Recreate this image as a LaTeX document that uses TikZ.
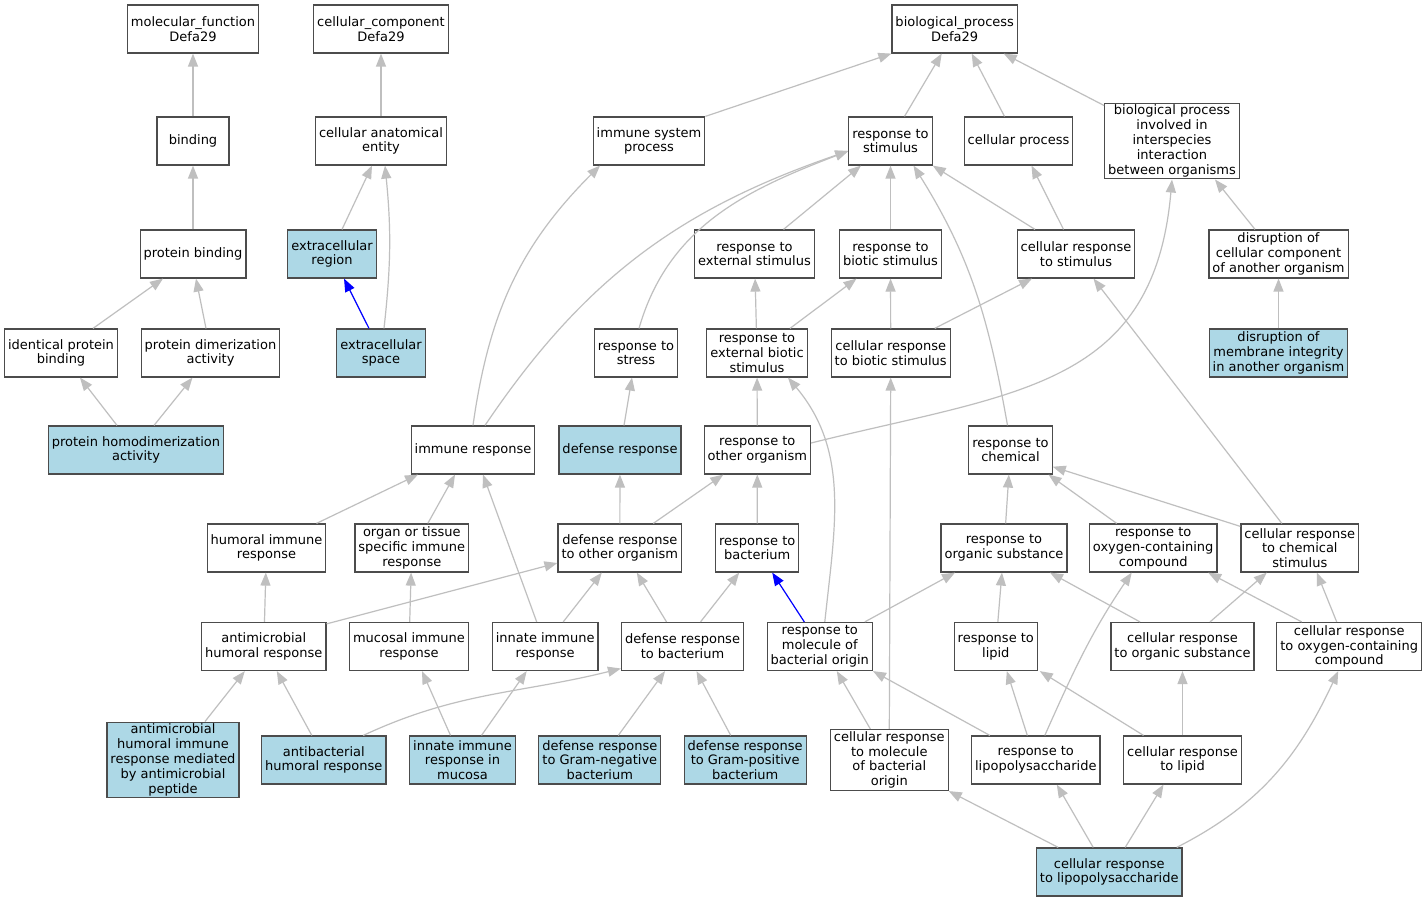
\documentclass[tikz,border=0pt]{standalone}
\usepackage{fontspec}
\setmainfont{DejaVu Sans}
\usetikzlibrary{arrows.meta}
\definecolor{golight}{HTML}{ADD8E6}
\begin{document}
\begin{tikzpicture}[x=1pt, y=1pt,
			go/.style = {shape=rectangle, draw=black!70, line width=1.2pt,
				fill=white, align=center, font=\fontsize{13}{14.8}\selectfont,
				inner xsep=3.5pt, inner ysep=2pt, minimum width=72pt, minimum height=48pt},
			hit/.style = {go, fill=golight},
			isa/.style = {draw=black!25, line width=1.2pt, -{Triangle[length=13pt,width=10pt]}},
			isablue/.style = {isa, draw=blue}]
	\useasboundingbox[fill=white] (0,0) rectangle (1427,-901);
	\node[go] (mf) at (193,-29) {molecular\_function\\Defa29};
	\node[go] (cc) at (381,-29) {cellular\_component\\Defa29};
	\node[go] (bp) at (954.7,-29) {biological\_process\\Defa29};
	\node[go] (bind) at (193,-141) {binding};
	\node[go] (cae) at (381,-141) {cellular anatomical\\entity};
	\node[go] (isp) at (649,-141) {immune system\\process};
	\node[go] (rstim) at (890.5,-141) {response to\\stimulus};
	\node[go] (cproc) at (1018.5,-141) {cellular process};
	\node[go] (bpi) at (1172,-141) {biological process\\involved in\\interspecies\\interaction\\between organisms};
	\node[go] (pbind) at (193,-254) {protein binding};
	\node[hit] (exreg) at (332,-254) {extracellular\\region};
	\node[go] (rext) at (754.5,-254) {response to\\external stimulus};
	\node[go] (rbio) at (890.5,-254) {response to\\biotic stimulus};
	\node[go] (crstim) at (1076,-254) {cellular response\\to stimulus};
	\node[go] (dcc) at (1278.5,-254) {disruption of\\cellular component\\of another organism};
	\node[go] (ipb) at (61,-353) {identical protein\\binding};
	\node[go] (pda) at (210.5,-353) {protein dimerization\\activity};
	\node[hit] (exsp) at (381,-353) {extracellular\\space};
	\node[go] (rstress) at (636,-353) {response to\\stress};
	\node[go] (rebs) at (757,-353) {response to\\external biotic\\stimulus};
	\node[go] (crbs) at (890.7,-353) {cellular response\\to biotic stimulus};
	\node[hit] (dmi) at (1278.5,-353) {disruption of\\membrane integrity\\in another organism};
	\node[hit] (phd) at (136,-450) {protein homodimerization\\activity};
	\node[go] (iresp) at (473,-450) {immune response};
	\node[hit] (dresp) at (620,-450) {defense response};
	\node[go] (roo) at (757.3,-450) {response to\\other organism};
	\node[go] (rchem) at (1010.5,-450) {response to\\chemical};
	\node[go] (hir) at (266.5,-548) {humoral immune\\response};
	\node[go] (otsir) at (411.8,-548) {organ or tissue\\specific immune\\response};
	\node[go] (droo) at (619.8,-548) {defense response\\to other organism};
	\node[go] (rbact) at (757.2,-548) {response to\\bacterium};
	\node[go] (rorg) at (1004,-548) {response to\\organic substance};
	\node[go] (roxy) at (1153.2,-548) {response to\\oxygen-containing\\compound};
	\node[go] (crchem) at (1299.8,-548) {cellular response\\to chemical\\stimulus};
	\node[go] (amhr) at (263.8,-646.5) {antimicrobial\\humoral response};
	\node[go] (mir) at (409,-646.5) {mucosal immune\\response};
	\node[go] (iir) at (545.2,-646.5) {innate immune\\response};
	\node[go] (drbact) at (682.5,-646.5) {defense response\\to bacterium};
	\node[go] (rmbo) at (819.8,-646.5) {response to\\molecule of\\bacterial origin};
	\node[go] (rlip) at (995.8,-646.5) {response to\\lipid};
	\node[go] (crorg) at (1182.5,-646.5) {cellular response\\to organic substance};
	\node[go] (croxy) at (1349.2,-646.5) {cellular response\\to oxygen-containing\\compound};
	\node[hit] (amp) at (173,-760) {antimicrobial\\humoral immune\\response mediated\\by antimicrobial\\peptide};
	\node[hit] (abhr) at (323.8,-760) {antibacterial\\humoral response};
	\node[hit] (iirm) at (462.5,-760) {innate immune\\response in\\mucosa};
	\node[hit] (dgneg) at (599.8,-760) {defense response\\to Gram-negative\\bacterium};
	\node[hit] (dgpos) at (745.2,-760) {defense response\\to Gram-positive\\bacterium};
	\node[go] (crmbo) at (889.3,-760) {cellular response\\to molecule\\of bacterial\\origin};
	\node[go] (rlps) at (1035.8,-760) {response to\\lipopolysaccharide};
	\node[go] (crlip) at (1182.5,-760) {cellular response\\to lipid};
	\node[hit] (crlps) at (1109.2,-872) {cellular response\\to lipopolysaccharide};
	\draw[isa] (bind) -- (mf);
	\draw[isa] (pbind) -- (bind);
	\draw[isa] ([xshift=32pt]ipb.north) -- ([xshift=-30pt]pbind.south);
	\draw[isa] ([xshift=-4.5pt]pda.north) -- ([xshift=3pt]pbind.south);
	\draw[isa] ([xshift=-19pt]phd.north) -- ([xshift=19pt]ipb.south);
	\draw[isa] ([xshift=18pt]phd.north) -- ([xshift=-18pt]pda.south);
	\draw[isa] (cae) -- (cc);
	\draw[isa] ([xshift=10pt]exreg.north) -- ([xshift=-9pt]cae.south);
	\draw[isa] ([xshift=3pt]exsp.north) to[bend right=6] ([xshift=4pt]cae.south);
	\draw[isablue] ([xshift=-12pt]exsp.north) -- ([xshift=12pt]exreg.south);
	\draw[isa] (isp.north east) -- (bp.south west);
	\draw[isa] ([xshift=14pt]rstim.north) -- ([xshift=-13pt]bp.south);
	\draw[isa] ([xshift=-14pt]cproc.north) -- ([xshift=17pt]bp.south);
	\draw[isa] ([yshift=-3pt]bpi.north west) -- ([xshift=49pt]bp.south);
	\draw[isa] (iresp.north) to[out=82,in=-135] ([xshift=-49pt]isp.south);
	\draw[isa] ([xshift=12pt]iresp.north) to[out=56,in=199] ([yshift=-10pt]rstim.west);
	\draw[isa] ([xshift=3pt]rstress.north) to[out=74,in=201] ([yshift=-10pt]rstim.west);
	\draw[isa] ([xshift=29pt]rext.north) -- ([xshift=-29.5pt]rstim.south);
	\draw[isa] (rbio) -- (rstim);
	\draw[isa] ([xshift=-3pt]rchem.north) to[out=100,in=-58] ([xshift=23pt]rstim.south);
	\draw[isa] ([xshift=-41pt]crstim.north) -- (rstim.south east);
	\draw[isa] ([xshift=-12.5pt]crstim.north) -- ([xshift=13pt]cproc.south);
	\draw[isa] ([xshift=-23.5pt]dcc.north) -- ([xshift=43pt]bpi.south);
	\draw[isa] (dmi) -- (dcc);
	\draw[isa] (rebs) -- (rext);
	\draw[isa] ([xshift=33pt]rebs.north) -- ([xshift=-34pt]rbio.south);
	\draw[isa] (crbs) -- (rbio);
	\draw[isa] ([xshift=44pt]crbs.north) -- ([xshift=-44pt]crstim.south);
	\draw[isa] ([xshift=4pt]dresp.north) -- ([xshift=-4pt]rstress.south);
	\draw[isa] (roo) -- (rebs);
	\draw[isa] ([yshift=7pt]roo.east) to[out=14,in=-95,looseness=1.2] (bpi.south);
	\draw[isa] ([xshift=50pt]hir.north) -- ([xshift=-55pt]iresp.south);
	\draw[isa] ([xshift=16pt]otsir.north) -- ([xshift=-18pt]iresp.south);
	\draw[isa] ([xshift=-8.5pt]iir.north) -- ([xshift=10pt]iresp.south);
	\draw[isa] (droo) -- (dresp);
	\draw[isa] ([xshift=33.5pt]droo.north) -- ([xshift=-34pt]roo.south);
	\draw[isa] (rbact) -- (roo);
	\draw[isa] (amhr) -- (hir);
	\draw[isa] ([yshift=-2pt]amhr.north east) -- ([yshift=-15pt]droo.west);
	\draw[isa] (mir) -- (otsir);
	\draw[isa] ([xshift=18pt]iir.north) -- ([xshift=-18pt]droo.south);
	\draw[isa] ([xshift=-16pt]drbact.north) -- ([xshift=17pt]droo.south);
	\draw[isa] ([xshift=18pt]drbact.north) -- ([xshift=-18pt]rbact.south);
	\draw[isablue] ([xshift=-15.5pt]rmbo.north) -- ([xshift=15pt]rbact.south);
	\draw[isa] ([xshift=5pt]rmbo.north) to[out=84,in=-50] ([xshift=31pt]rebs.south);
	\draw[isa] ([xshift=45pt]rmbo.north) -- ([xshift=-49pt]rorg.south);
	\draw[isa] ([xshift=32pt]amp.north) -- ([xshift=-19pt]amhr.south);
	\draw[isa] ([xshift=-12pt]abhr.north) -- ([xshift=13pt]amhr.south);
	\draw[isa] ([xshift=39.5pt]abhr.north) to[out=25,in=-166] ([yshift=-22pt]drbact.west);
	\draw[isa] ([xshift=-12pt]iirm.north) -- ([xshift=13pt]mir.south);
	\draw[isa] ([xshift=19pt]iirm.north) -- ([xshift=-18.5pt]iir.south);
	\draw[isa] ([xshift=18.5pt]dgneg.north) -- ([xshift=-17.5pt]drbact.south);
	\draw[isa] ([xshift=-14.5pt]dgpos.north) -- ([xshift=14pt]drbact.south);
	\draw[isa] ([xshift=-19pt]crmbo.north) -- ([xshift=17pt]rmbo.south);
	\draw[isa] (crmbo.north) -- (crbs.south);
	\draw[isa] (rorg) -- (rchem);
	\draw[isa] ([xshift=-36.5pt]roxy.north) -- ([xshift=38pt]rchem.south);
	\draw[isa] ([yshift=-3pt]crchem.north west) -- ([yshift=-16.7pt]rchem.east);
	\draw[isa] ([xshift=-18pt]crchem.north) -- ([xshift=17.5pt]crstim.south);
	\draw[isa] (rlip) -- (rorg);
	\draw[isa] ([xshift=-42.5pt]crorg.north) -- ([xshift=46pt]rorg.south);
	\draw[isa] ([xshift=27.5pt]crorg.north) -- ([xshift=-33pt]crchem.south);
	\draw[isa] ([xshift=-47.5pt]croxy.north) -- ([xshift=55pt]roxy.south);
	\draw[isa] ([xshift=-12.5pt]croxy.north) -- ([xshift=17pt]crchem.south);
	\draw[isa] ([xshift=-46pt]rlps.north) -- (rmbo.south east);
	\draw[isa] ([xshift=-8.5pt]rlps.north) -- ([xshift=11pt]rlip.south);
	\draw[isa] ([xshift=9pt]rlps.north) to[out=66,in=-124] ([xshift=-21.5pt]roxy.south);
	\draw[isa] ([xshift=-39pt]crlip.north) -- ([xshift=44pt]rlip.south);
	\draw[isa] (crlip) -- (crorg);
	\draw[isa] ([xshift=-51pt]crlps.north) -- (crmbo.south east);
	\draw[isa] ([xshift=-16pt]crlps.north) -- ([xshift=21pt]rlps.south);
	\draw[isa] ([xshift=16pt]crlps.north) -- ([xshift=-19pt]crlip.south);
	\draw[isa] ([xshift=67.5pt]crlps.north) to[out=27,in=-115] ([xshift=-11pt]croxy.south);
\end{tikzpicture}
\end{document}
